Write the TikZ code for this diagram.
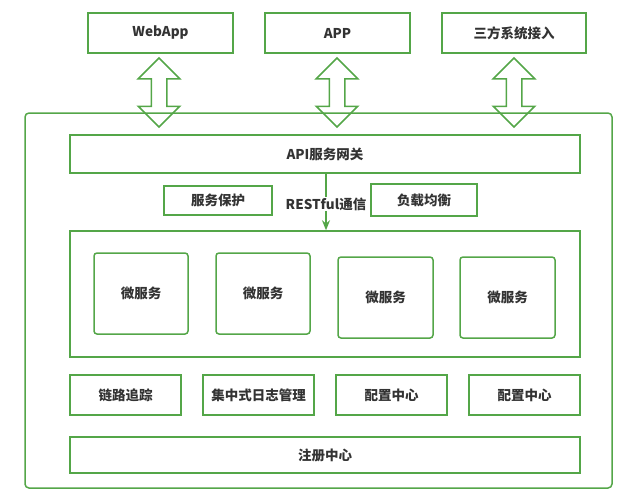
\documentclass[tikz,border=0pt]{standalone}
\usepackage{fontspec}
\setmainfont{Noto Sans CJK SC}
\usetikzlibrary{positioning,shapes.arrows,arrows.meta}
\definecolor{frmgreen}{RGB}{84,166,72}
\definecolor{txtgray}{RGB}{51,51,51}

\begin{document}
\begin{tikzpicture}[x=1pt,y=-1pt,>={Stealth[length=10pt,width=8pt]},line width=1.5pt,
    box/.style={draw=frmgreen,text=txtgray,font=\fontsize{13.5}{15}\selectfont\bfseries,
      inner sep=0pt,minimum height=40pt},
    svc/.style={box,rounded corners=3pt,minimum width=94pt,minimum height=81pt},
    dblarrow/.style={draw=frmgreen,shape=double arrow,rotate=90,inner xsep=0pt,inner ysep=7pt,
      minimum width=40pt,double arrow head extend=13pt,minimum height=69pt}]
  \useasboundingbox (0,0) rectangle (641,501);
  % clients
  \node[box,minimum width=145pt] (web) at (160.5,33) {WebApp};
  \node[box,minimum width=145pt] (app) at (337.5,33) {APP};
  \node[box,minimum width=144pt] (thirdp) at (514,33) {三方系统接入};
  % platform frame
  \draw[frmgreen,rounded corners=4pt] (25,113) rectangle (612,488);
  \node[dblarrow] (arr1) at (159,92.5) {};
  \node[dblarrow] (arr2) at (337,92.5) {};
  \node[dblarrow] (arr3) at (514,92.5) {};
  % gateway
  \node[box,minimum width=510pt,minimum height=38pt] (gw) at (325,154) {API服务网关};
  \node[box,minimum width=108pt,minimum height=29pt] (protect) at (218,200.5) {服务保护};
  \node[box,minimum width=106pt,minimum height=32pt] (balance) at (424,200) {负载均衡};
  % services
  \node[box,minimum width=510pt,minimum height=126pt] (svcs) at (325,294) {};
  \draw[->,frmgreen] (gw.south -| 326,0) -- node[fill=white,text=txtgray,
    font=\fontsize{13.5}{15}\selectfont\bfseries,inner sep=1pt,yshift=-2pt] (rest) {RESTful通信} (svcs.north -| 326,0);
  \node[svc] (ms1) at (141,293.5) {微服务};
  \node[svc] (ms2) at (263,293.5) {微服务};
  \node[svc,minimum width=95pt] (ms3) at (385.5,297.5) {微服务};
  \node[svc,minimum width=95pt] (ms4) at (507.5,297.5) {微服务};
  % support
  \node[box,minimum width=111pt] (trace) at (125.5,395) {链路追踪};
  \node[box,minimum width=111pt] (logs) at (258.5,395) {集中式日志管理};
  \node[box,minimum width=111pt] (conf1) at (391.5,395) {配置中心};
  \node[box,minimum width=111pt] (conf2) at (524.5,395) {配置中心};
  \node[box,minimum width=510pt,minimum height=36pt] (reg) at (325,455) {注册中心};
\end{tikzpicture}
\end{document}
